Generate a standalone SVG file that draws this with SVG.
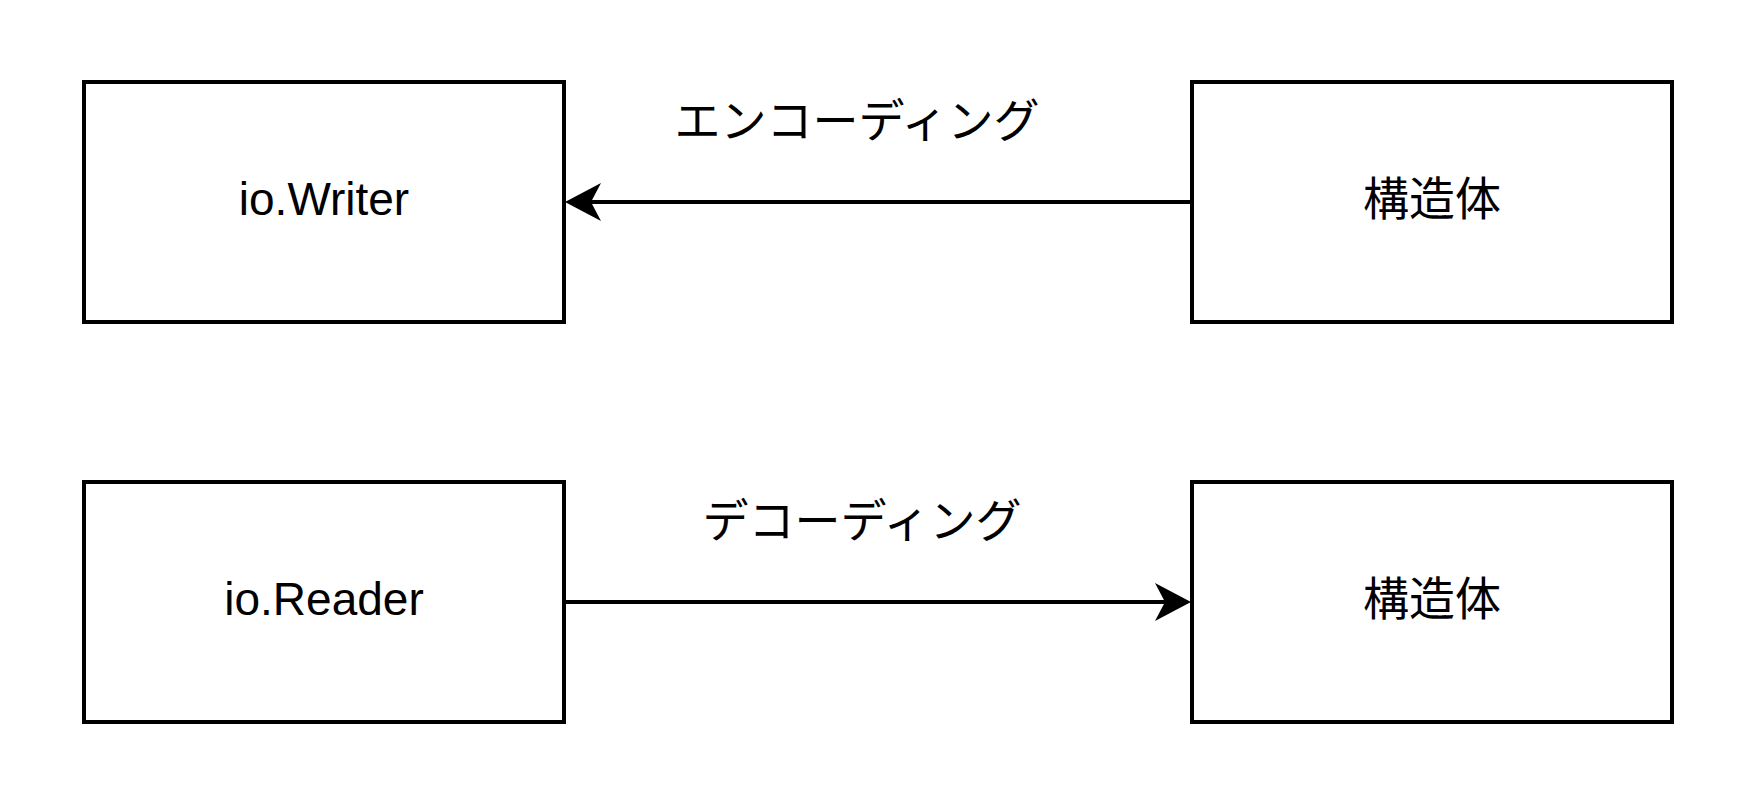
<svg xmlns="http://www.w3.org/2000/svg" width="1752" height="804" viewBox="0 0 1752 804">
  <style>
    .box { fill: #ffffff; stroke: #000000; stroke-width: 4; }
    .lbl { font-family: "Liberation Sans", Arial, "Noto Sans CJK JP", sans-serif; font-size: 46px; fill: #000000; text-anchor: middle; }
    .jp { font-family: "Noto Sans CJK JP", sans-serif; }
    .edge { fill: none; stroke: #000000; stroke-width: 4; }
  </style>
  <defs>
    <marker id="arrow" viewBox="0 0 40 40" refX="14" refY="20" markerWidth="40" markerHeight="40" markerUnits="userSpaceOnUse" orient="auto">
      <path d="M4,1 L40,20 L4,39 L14,20 Z" fill="#000000"/>
    </marker>
  </defs>
  <rect width="1752" height="804" fill="#ffffff"/>

  <g id="connectors">
    <g id="edge-encode">
      <path class="edge" d="M1192,202 L591,202" marker-end="url(#arrow)"/>
      <text class="lbl jp" x="857" y="137">エンコーディング</text>
    </g>
    <g id="edge-decode">
      <path class="edge" d="M564,602 L1165,602" marker-end="url(#arrow)"/>
      <text class="lbl jp" x="862" y="537">デコーディング</text>
    </g>
  </g>

  <g id="node-writer">
    <rect class="box" x="84" y="82" width="480" height="240"/>
    <text class="lbl" x="324" y="215">io.Writer</text>
  </g>
  <g id="node-struct-top">
    <rect class="box" x="1192" y="82" width="480" height="240"/>
    <text class="lbl jp" x="1432" y="215">構造体</text>
  </g>
  <g id="node-reader">
    <rect class="box" x="84" y="482" width="480" height="240"/>
    <text class="lbl" x="324" y="615">io.Reader</text>
  </g>
  <g id="node-struct-bottom">
    <rect class="box" x="1192" y="482" width="480" height="240"/>
    <text class="lbl jp" x="1432" y="615">構造体</text>
  </g>
</svg>
